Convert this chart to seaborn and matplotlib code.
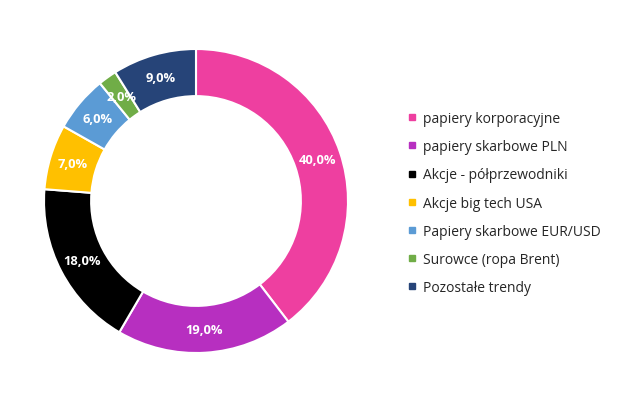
import matplotlib
matplotlib.use("Agg")
import matplotlib.pyplot as plt
from matplotlib.lines import Line2D
import numpy as np
import seaborn as sns

categories = ["papiery korporacyjne", "papiery skarbowe PLN", "Akcje - półprzewodniki",
              "Akcje big tech USA", "Papiery skarbowe EUR/USD", "Surowce (ropa Brent)",
              "Pozostałe trendy"]
values = [40.0, 19.0, 18.0, 7.0, 6.0, 2.0, 9.0]
labels = ["40,0%", "19,0%", "18,0%", "7,0%", "6,0%", "2,0%", "9,0%"]
colors = ["#EE3FA0", "#B72FC0", "#000000", "#FFC000", "#5B9BD5", "#70AD47", "#264478"]

sns.set_style("white")
plt.rcParams["font.family"] = ["Open Sans", "DejaVu Sans"]

fig = plt.figure(figsize=(6.34, 4.14), dpi=100)
ax = fig.add_axes([44 / 634, 60 / 414, 304 / 634, 304 / 414])

wedges, _ = ax.pie(values, colors=colors, startangle=90, counterclock=False,
                   radius=1, wedgeprops=dict(width=0.31, edgecolor="white", linewidth=1.5))

# percentage labels in the middle of the ring
for w, lab in zip(wedges, labels):
    mid = np.deg2rad((w.theta1 + w.theta2) / 2)
    r = 0.845
    ax.text(r * np.cos(mid), r * np.sin(mid), lab, ha="center", va="center",
            color="white", fontsize=9.3, fontweight="bold")

ax.set_xlim(-1, 1)
ax.set_ylim(-1, 1)
ax.set_aspect("equal")
ax.axis("off")

handles = [Line2D([0], [0], marker="s", linestyle="", markersize=5,
                  markerfacecolor=c, markeredgecolor=c) for c in colors]
fig.legend(handles, categories, loc="center left", bbox_to_anchor=(401 / 634, 0.507),
           frameon=False, fontsize=10, labelspacing=0.95, handlelength=0.8,
           handletextpad=0.4, borderaxespad=0)

fig.savefig("out.png", dpi=100)
